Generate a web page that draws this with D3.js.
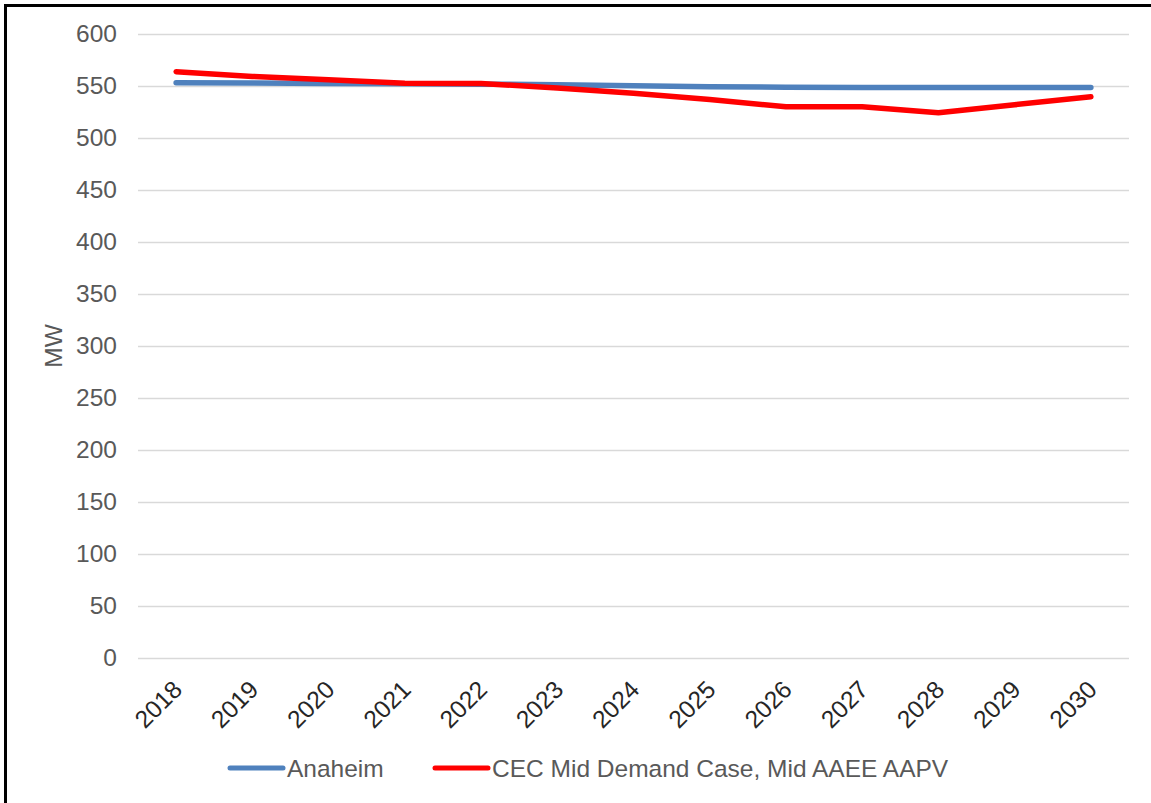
<!DOCTYPE html>
<html>
<head>
    <title>Anaheim peak demand</title>
    <script src="https://d3js.org/d3.v7.min.js"></script>
    <style>
        body { margin: 0; background: #fff; }
        text { font-family: "Liberation Sans", Arial, sans-serif; }
    </style>
</head>
<body>
    <div id="chart"></div>
    <script>
const years = ['2018', '2019', '2020', '2021', '2022', '2023', '2024', '2025', '2026', '2027', '2028', '2029', '2030'];
const anaheim = [553.2, 552.8, 552.4, 552.1, 551.8, 551.2, 550.3, 549.3, 548.8, 548.6, 548.6, 548.6, 548.6];
const cec = [563.8, 559.2, 556.0, 552.6, 552.5, 548.0, 543.0, 537.0, 530.0, 530.0, 524.2, 532.0, 539.7];
const yTicks = [0, 50, 100, 150, 200, 250, 300, 350, 400, 450, 500, 550, 600];
const seriesNames = ['Anaheim', 'CEC Mid Demand Case, Mid AAEE AAPV'];
const seriesColors = ['#4f81bd', '#ff0000'];

const width = 1151;
const height = 803;
const plot = { left: 138, right: 1129, top: 34, bottom: 658 };
const fontSize = 24.5;

const svg = d3.select('#chart')
    .append('svg')
    .attr('width', width)
    .attr('height', height);

svg.append('rect')
    .attr('width', width)
    .attr('height', height)
    .attr('fill', '#fff');

// border (only left and top are in frame)
svg.append('path')
    .attr('d', `M5.5,${height} V5.5 H${width}`)
    .attr('fill', 'none')
    .attr('stroke', '#000')
    .attr('stroke-width', 3);

const x = d3.scalePoint()
    .domain(years)
    .range([plot.left, plot.right])
    .padding(0.5);

const y = d3.scaleLinear()
    .domain([0, 600])
    .range([plot.bottom, plot.top]);

// gridlines
svg.append('g')
    .selectAll('line')
    .data(yTicks)
    .enter()
    .append('line')
    .attr('x1', plot.left)
    .attr('x2', plot.right)
    .attr('y1', d => y(d) + 0.5)
    .attr('y2', d => y(d) + 0.5)
    .attr('stroke', '#d9d9d9')
    .attr('stroke-width', 1.5);

// y axis labels
const yAxis = svg.append('g')
    .attr('transform', `translate(${plot.left - 21},0)`)
    .call(d3.axisLeft(y).tickValues(yTicks).tickSize(0).tickPadding(0));
yAxis.select('.domain').remove();
yAxis.selectAll('text')
    .attr('font-size', fontSize)
    .attr('fill', '#595959')
    .attr('font-family', '"Liberation Sans", Arial, sans-serif');

// x axis labels
const xAxis = svg.append('g')
    .attr('transform', `translate(0,${plot.bottom})`)
    .call(d3.axisBottom(x).tickSize(0).tickPadding(0));
xAxis.select('.domain').remove();
xAxis.selectAll('text')
    .attr('font-size', fontSize)
    .attr('fill', '#262626')
    .attr('font-family', '"Liberation Sans", Arial, sans-serif')
    .attr('text-anchor', 'end')
    .attr('dy', 0)
    .attr('transform', 'translate(7,33) rotate(-45)');

// y axis title
svg.append('text')
    .attr('transform', 'translate(62,346) rotate(-90)')
    .attr('text-anchor', 'middle')
    .attr('font-size', fontSize)
    .attr('fill', '#595959')
    .text('MW');

const line = d3.line()
    .x((d, i) => x(years[i]))
    .y(d => y(d));

[anaheim, cec].forEach((vals, i) => {
    svg.append('path')
        .datum(vals)
        .attr('d', line)
        .attr('fill', 'none')
        .attr('stroke', seriesColors[i])
        .attr('stroke-width', 5.5)
        .attr('stroke-linecap', 'round')
        .attr('stroke-linejoin', 'round');
});

// legend
const legendX = [228, 433];
const legend = svg.append('g')
    .selectAll('g')
    .data(seriesNames)
    .enter()
    .append('g')
    .attr('transform', (d, i) => `translate(${legendX[i]},768)`);

legend.append('line')
    .attr('x1', 2)
    .attr('x2', 55)
    .attr('stroke', (d, i) => seriesColors[i])
    .attr('stroke-width', 5)
    .attr('stroke-linecap', 'round');

legend.append('text')
    .attr('x', 59)
    .attr('y', 9)
    .attr('font-size', fontSize)
    .attr('fill', '#595959')
    .text(d => d);
    </script>
</body>
</html>
